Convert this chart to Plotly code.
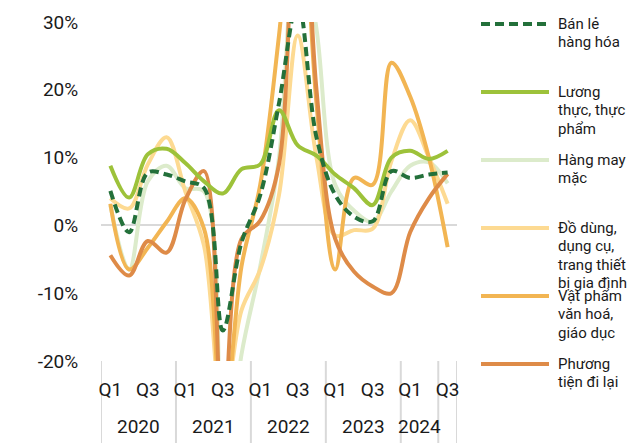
import plotly.graph_objects as go

# ---- data -------------------------------------------------------------
year_labels = ["2020"] * 4 + ["2021"] * 4 + ["2022"] * 4 + ["2023"] * 4 + ["2024"] * 2 + [""]
quarters = ["Q1", "Q2", "Q3", "Q4"] * 4 + ["Q1", "Q2", "Q3"]
shown_quarters = ["Q1", "Q3"]

y_tick_values = [-20, -10, 0, 10, 20, 30]
y_tick_labels = ["-20%", "-10%", "0%", "10%", "20%", "30%"]

series_names = [
    "Bán lẻ hàng hóa",
    "Lương thực, thực phẩm",
    "Hàng may mặc",
    "Đồ dùng, dụng cụ, trang thiết bị gia đình",
    "Vật phẩm văn hoá, giáo dục",
    "Phương tiện đi lại",
]
legend_lines = [
    ["Bán lẻ", "hàng hóa"],
    ["Lương", "thực, thực", "phẩm"],
    ["Hàng may", "mặc"],
    ["Đồ dùng,", "dụng cụ,", "trang thiết", "bị gia đình"],
    ["Vật phẩm", "văn hoá,", "giáo dục"],
    ["Phương", "tiện đi lại"],
]

ban_le = [5.1, -1.0, 7.8, 7.5, 6.5, 5.5, -15.5, -2.5, 4.5, 18, 33, 13, 4.5, 1.3, 0.6, 8.0, 7.0, 7.5, 7.8]
luong_thuc = [8.8, 4.1, 10.5, 11.3, 9.2, 6.5, 4.7, 8.3, 9.0, 17, 11.8, 10.3, 7.5, 5.5, 3.0, 10.0, 11.0, 9.8, 11.0]
may_mac = [3.0, -6.5, 6.5, 8.8, 5.5, 5.0, -40, -19, -6, 10, 45, 29, 6, 2.2, 0.5, 5.0, 8.8, 9.3, 6.2]
do_dung = [4.0, 2.5, 9.0, 13.0, 5.0, -3.0, -28, -12.5, -6.5, 4.5, 28, 10, -1.5, -0.7, -0.5, 9.5, 15.5, 10, 3.2]
van_hoa = [3.2, -6.5, -3.3, 0.5, 4.0, -0.5, -30, -6, 6, 28, 55, 18, -6.5, 7, 6, 24, 19, 10, -3.2]
phuong_tien = [-4.4, -7.4, -2.3, -4.0, 3.8, 8.0, -30, -2, 0.7, 9, 65, 20, -2, -6.8, -9, -10, -1, 4, 7.6]

all_series = [ban_le, luong_thuc, may_mac, do_dung, van_hoa, phuong_tien]
colors = ["#23703A", "#9DC23A", "#DCEBCB", "#FDDA92", "#F2B553", "#DE8B48"]
dashes = ["9px,5px", "solid", "solid", "solid", "solid", "solid"]

# category keys (unique per period)
periods = [f"{y or '2024'} {q}" for y, q in zip(year_labels, quarters)]

# ---- layout geometry (pixels) ---------------------------------------
W, H = 629, 443
L, R, T, B = 101, 172, 22, 82
plot_w = W - L - R
plot_h = H - T - B

def px_x(px):
    return (px - L) / plot_w

def px_y(py):
    return (H - B - py) / plot_h

fig = go.Figure()
draw_order = [2, 3, 4, 5, 1, 0]
for i in draw_order:
    fig.add_trace(go.Scatter(
        x=periods,
        y=all_series[i],
        mode="lines",
        name=series_names[i],
        line=dict(color=colors[i], width=4, dash=dashes[i], shape="spline", smoothing=1),
        showlegend=False,
        hoverinfo="skip",
    ))

# year groups: dividers + labels
n = len(periods)
bounds = [-0.5] + [i - 0.5 for i in range(1, n) if year_labels[i] != year_labels[i - 1]] + [n - 0.5]
for b in bounds:
    fig.add_shape(type="line", xref="x", yref="paper", x0=b, x1=b,
                  y0=0, y1=px_y(H + 2), line=dict(color="#d9d9d9", width=2), layer="below")
for a, b in zip(bounds[:-1], bounds[1:]):
    lab = year_labels[int(a + 0.5)]
    if lab:
        fig.add_annotation(text=lab, xref="x", yref="paper", x=(a + b) / 2, y=px_y(426),
                           xanchor="center", yanchor="middle", showarrow=False,
                           font=dict(size=19, color="#1a1a1a", family="Roboto"))

# custom legend
leg_y0, leg_step = 24, 68
for k, name in enumerate(series_names):
    ly = leg_y0 + k * leg_step
    fig.add_shape(type="line", xref="paper", yref="paper",
                  x0=px_x(481), x1=px_x(549), y0=px_y(ly), y1=px_y(ly),
                  line=dict(color=colors[k], width=4, dash=dashes[k]))
    for j, txt in enumerate(legend_lines[k]):
        fig.add_annotation(text=txt, xref="paper", yref="paper",
                           x=px_x(556), y=px_y(ly + j * 18.3),
                           xanchor="left", yanchor="middle", showarrow=False,
                           font=dict(size=15, color="#1a1a1a", family="Roboto"))

tick_vals = [p for p, q in zip(periods, quarters) if q in shown_quarters]
tick_text = [q for q in quarters if q in shown_quarters]

fig.update_layout(
    width=W, height=H,
    margin=dict(l=L, r=R, t=T, b=B),
    paper_bgcolor="white", plot_bgcolor="white",
    font=dict(family="Roboto", color="#1a1a1a", size=19),
    showlegend=False,
)
fig.update_xaxes(
    type="category", range=[-0.5, n - 0.5],
    tickvals=tick_vals, ticktext=tick_text,
    showgrid=False, zeroline=False, showline=False,
    tickfont=dict(size=19, color="#1a1a1a"),
    tickangle=0,
    ticks="outside", ticklen=11, tickcolor="rgba(0,0,0,0)",
)
fig.update_yaxes(
    range=[-20, 30], tickvals=y_tick_values, ticktext=y_tick_labels,
    showgrid=False, zeroline=True, zerolinecolor="#d9d9d9", zerolinewidth=2,
    showline=False, ticks="outside", ticklen=18, tickcolor="rgba(0,0,0,0)",
    tickfont=dict(size=19, color="#1a1a1a"),
)

fig.write_html("out.html")
